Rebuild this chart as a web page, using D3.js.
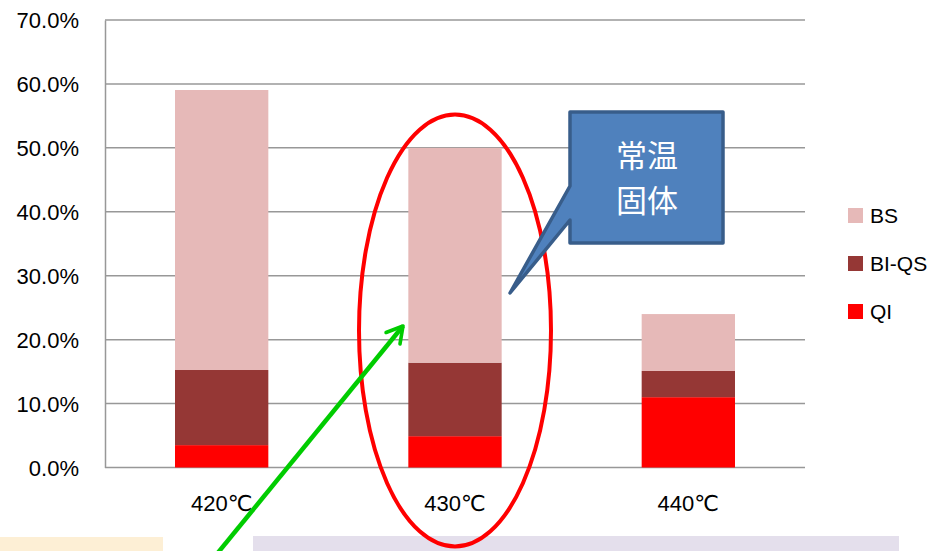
<!DOCTYPE html>
<html>
<head>
<meta charset="utf-8">
<script src="https://cdn.jsdelivr.net/npm/d3@7/dist/d3.min.js"></script>
<style>
  html, body { margin: 0; padding: 0; background: #fff; }
  svg { display: block; }
  text { font-family: "Liberation Sans", Arial, "DejaVu Sans", sans-serif; fill: #000; }
</style>
</head>
<body>
<svg id="chart" width="931" height="551"></svg>
<script>
// Temperature categories
const categories = ["420℃", "430℃", "440℃"];
// Stacked component shares (percent), bottom to top
const seriesNames = ["QI", "BI-QS", "BS"];
const qiValues   = [3.5, 4.9, 11.0];
const biqsValues = [11.75, 11.5, 4.1];
const bsValues   = [43.8, 33.6, 8.9];
const yTicks = [0, 10, 20, 30, 40, 50, 60, 70];
const legendOrder = ["BS", "BI-QS", "QI"];
const colors = { "QI": "#FF0000", "BI-QS": "#953735", "BS": "#E6B9B8" };
const calloutLines = ["常温", "固体"];

const svg = d3.select("#chart");

// Background panels along the bottom edge
svg.append("rect").attr("x", 0).attr("y", 537).attr("width", 163).attr("height", 14).attr("fill", "#FDEFD5");
svg.append("rect").attr("x", 253).attr("y", 536).attr("width", 646).attr("height", 15).attr("fill", "#E4DFEC");

const plot = { left: 105, right: 805, top: 20, bottom: 467.5 };

const x = d3.scaleBand().domain(categories).range([plot.left, plot.right]).paddingInner(0.6).paddingOuter(0.3);
const y = d3.scaleLinear().domain([0, 70]).range([plot.bottom, plot.top]);

// Horizontal gridlines
svg.append("g").selectAll("line").data(yTicks).join("line")
  .attr("x1", plot.left).attr("x2", plot.right)
  .attr("y1", d => y(d)).attr("y2", d => y(d))
  .attr("stroke", "#989898").attr("stroke-width", 1.5);

// Value axis
const yAxis = svg.append("g").attr("transform", `translate(${plot.left},0)`)
  .call(d3.axisLeft(y).tickValues(yTicks).tickSize(0).tickPadding(26).tickFormat(d => d.toFixed(1) + "%"));
yAxis.select(".domain").attr("stroke", "#989898").attr("stroke-width", 1.5);
yAxis.selectAll("text").style("font-size", "22px").attr("dy", "0.36em")
  .style("font-family", "'Liberation Sans', Arial, sans-serif");

// Stacked bars
const rows = categories.map((c, i) => ({ cat: c, "QI": qiValues[i], "BI-QS": biqsValues[i], "BS": bsValues[i] }));
const stacked = d3.stack().keys(seriesNames)(rows);

svg.append("g").selectAll("g").data(stacked).join("g")
  .attr("fill", d => colors[d.key])
  .selectAll("rect").data(d => d).join("rect")
  .attr("x", d => x(d.data.cat))
  .attr("width", x.bandwidth())
  .attr("y", d => y(d[1]))
  .attr("height", d => y(d[0]) - y(d[1]));

// Category labels
svg.append("g").selectAll("text").data(categories).join("text")
  .attr("x", d => x(d) + x.bandwidth() / 2)
  .attr("y", 511)
  .attr("text-anchor", "middle")
  .style("font-size", "22px")
  .text(d => d);

// Legend
const legend = svg.append("g").selectAll("g").data(legendOrder).join("g")
  .attr("transform", (d, i) => `translate(848,${208 + i * 48})`);
legend.append("rect").attr("width", 15).attr("height", 15).attr("fill", d => colors[d]);
legend.append("text").attr("x", 22).attr("y", 7.5).attr("dy", "0.36em")
  .style("font-size", "21px").text(d => d);

// Highlight ellipse around the 430℃ bar
svg.append("ellipse")
  .attr("cx", x(categories[1]) + x.bandwidth() / 2).attr("cy", 330.5)
  .attr("rx", 96).attr("ry", 216)
  .attr("fill", "none").attr("stroke", "#FF0000").attr("stroke-width", 4);

// Callout box with pointer
const callout = svg.append("g");
callout.append("path")
  .attr("d", "M570,112 L723,112 L723,243 L570,243 L570,220 L510,293 L570,186 Z")
  .attr("fill", "#4F81BD").attr("stroke", "#385D8A").attr("stroke-width", 3.5)
  .attr("stroke-linejoin", "round");
callout.selectAll("text").data(calloutLines).join("text")
  .attr("x", 647).attr("y", (d, i) => 156 + i * 45)
  .attr("dy", "0.36em")
  .attr("text-anchor", "middle")
  .style("font-family", "'Noto Sans CJK JP', 'Noto Sans CJK SC', sans-serif")
  .style("font-size", "31px").style("fill", "#fff")
  .text(d => d);

// Green pointer arrow
svg.append("defs").append("marker")
  .attr("id", "openArrow").attr("viewBox", "0 0 10 10")
  .attr("refX", 8).attr("refY", 5)
  .attr("markerWidth", 5).attr("markerHeight", 5)
  .attr("markerUnits", "strokeWidth")
  .attr("orient", "auto")
  .append("path").attr("d", "M1,1 L8,5 L1,9")
  .attr("fill", "none").attr("stroke", "#00CC00").attr("stroke-width", 1.6)
  .attr("stroke-linecap", "round").attr("stroke-linejoin", "round");
svg.append("line")
  .attr("x1", 212).attr("y1", 560).attr("x2", 403).attr("y2", 326)
  .attr("stroke", "#00CC00").attr("stroke-width", 4.5)
  .attr("marker-end", "url(#openArrow)");
</script>
</body>
</html>
